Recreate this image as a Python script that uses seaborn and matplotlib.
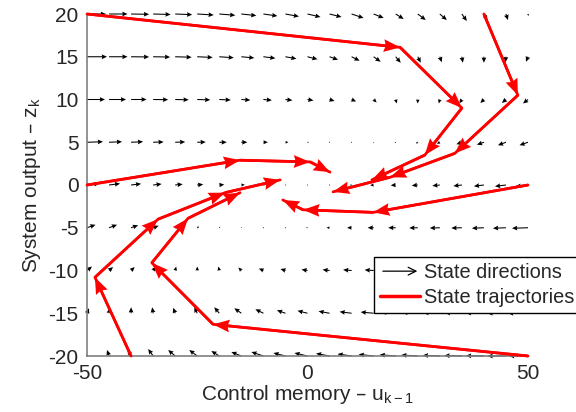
import numpy as np
import pandas as pd
import matplotlib
matplotlib.use("Agg")
import matplotlib.pyplot as plt
import seaborn as sns
from matplotlib.lines import Line2D
from matplotlib.patches import FancyArrowPatch
from matplotlib.legend_handler import HandlerBase

# grid of states
u_levels = [-50, -45, -40, -35, -30, -25, -20, -15, -10, -5, 0,
            5, 10, 15, 20, 25, 30, 35, 40, 45, 50]
z_levels = [20, 15, 10, 5, 0, -5, -10, -15, -20]

# state directions (arrow components, one row per z level, u from -50 to 50)
du_20 = [19, 18.5, 18, 17.5, 17, 16.5, 16, 15, 14, 13.5, 13, 12, 12, 10, 8, 8, 7, 5, 3.5, 2, 0.5]
dz_20 = [0, 0, -0.3, -0.5, -0.7, -1, -1.3, -1.6, -2, -2.5, -3, -3, -4, -4, -5, -6, -6, -7, -6.5, -6, -2]
du_15 = [20, 18.5, 18, 17, 16.5, 15.5, 14.5, 13, 12, 11, 10, 8.5, 8, 7, 5, 3, 2, 1, 0, -0.5, -2]
dz_15 = [0, 0, -0.2, -0.3, -0.5, -0.7, -1, -1.2, -1.5, -2, -2.5, -3, -4, -5, -6, -6, -5.5, -6, -6, -5.5, -5]
du_10 = [18, 17, 15.5, 15, 13.5, 13, 11.5, 9, 8.5, 7, 6, 5, 4.5, 3, 1, 0, -1, -2.5, -3.5, -4, -5]
dz_10 = [0, 0, 0, -0.2, -0.3, -0.4, -0.5, -0.6, -0.7, -0.8, -1, -1.5, -2, -3, -4, -4, -4, -4, -3.5, -3.5, -4]
du_5 = [16, 13, 12, 10.5, 10, 8.5, 7.5, 6, 4.5, 3, 1.5, 0.5, 0, -0.5, -1, -2, -3, -5.5, -7, -8, -8.5]
dz_5 = [0.5, 0.5, 0.5, 0.3, 0.3, 0.2, 0, 0, 0, 0, -0.3, -0.5, -0.8, -1, -1, -1.2, -1.5, -2, -2.5, -3, -3]
du_0 = [12.5, 11, 10, 8.5, 7.5, 6, 5, 3.5, 2, 1, 0, -1, -2, -3.5, -5, -6, -7.5, -8.5, -10, -11, -12.5]
dz_0 = [1.5, 1.4, 1.2, 1, 0.8, 0.6, 0.4, 0.3, 0.2, 0, 0, 0, -0.2, -0.3, -0.4, -0.6, -0.8, -1, -1.2, -1.4, -1.5]
du_m5 = [8.5, 8, 7, 5.5, 3, 2, 1, 0.5, 0, -0.5, -1.5, -3, -4.5, -6, -7.5, -8.5, -10, -10.5, -12, -13, -16]
dz_m5 = [3, 3, 2.5, 2, 1.5, 1.2, 1, 1, 0.8, 0.5, 0.3, 0, 0, 0, 0, -0.2, -0.3, -0.3, -0.5, -0.5, -0.5]
du_m10 = [5, 4, 3.5, 2.5, 1, 0, -1, -3, -4.5, -5, -6, -7, -8.5, -9, -11.5, -13, -13.5, -15, -15.5, -17, -18]
dz_m10 = [4, 3.5, 3.5, 4, 4, 4, 4, 3, 2, 1.5, 1, 0.8, 0.7, 0.6, 0.5, 0.4, 0.3, 0.2, 0, 0, 0]
du_m15 = [2, 0.5, 0, -1, -2, -3, -5, -7, -8, -8.5, -10, -11, -12, -13, -14.5, -15.5, -16.5, -17, -18, -18.5, -20]
dz_m15 = [5, 5.5, 6, 6, 5.5, 6, 6, 5, 4, 3, 2.5, 2, 1.5, 1.2, 1, 0.7, 0.5, 0.3, 0.2, 0, 0]
du_m20 = [-0.5, -2, -3.5, -5, -7, -8, -8, -10, -12, -12, -13, -13.5, -14, -15, -16, -16.5, -17, -17.5, -18, -18.5, -19]
dz_m20 = [2, 6, 6.5, 7, 6, 6, 5, 4, 4, 3, 3, 2.5, 2, 1.6, 1.3, 1, 0.7, 0.5, 0.3, 0, 0]

# state trajectories (control memory u, system output z)
traj_a_u = [-50, 21, 35, 26.6, 14.6]
traj_a_z = [20, 16.1, 9, 3.5, 0.6]
traj_b_u = [40, 47.7, 33.4, 18.7, 5.8]
traj_b_z = [20, 10.5, 3.7, 0.9, -0.8]
traj_c_u = [-50, -15.3, 0.6, 5.1]
traj_c_z = [0, 2.9, 2.7, 1.5]
traj_d_u = [-40, -48.2, -33.9, -18.7, -6.2]
traj_d_z = [-20, -10.8, -4.0, -0.9, 0.6]
traj_e_u = [50, -21.4, -35.3, -27.1, -15.3]
traj_e_z = [-20, -16.3, -9.1, -3.9, -0.9]
traj_f_u = [50, 14.9, -1.0, -5.6]
traj_f_z = [0, -3.2, -2.9, -1.75]

sns.set_style("white")
plt.rcParams["font.family"] = ["Liberation Sans", "DejaVu Sans"]
plt.rcParams["axes.unicode_minus"] = False
plt.rcParams["mathtext.default"] = "regular"

fig = plt.figure(figsize=(5.76, 4.12), dpi=100)
ax = fig.add_axes([87 / 576, 1 - 356 / 412, 441 / 576, 342 / 412])

# vector field
UU, ZZ = np.meshgrid(u_levels, z_levels)
DU = np.array([du_20, du_15, du_10, du_5, du_0, du_m5, du_m10, du_m15, du_m20])
DZ = np.array([dz_20, dz_15, dz_10, dz_5, dz_0, dz_m5, dz_m10, dz_m15, dz_m20])
ax.quiver(UU, ZZ, DU, DZ, angles="uv", scale_units="dots", scale=1,
          width=0.0024, headwidth=4.5, headlength=5, headaxislength=4.5,
          color="black", zorder=2, clip_on=False)

# trajectories
trajs = {"A": (traj_a_u, traj_a_z), "B": (traj_b_u, traj_b_z),
         "C": (traj_c_u, traj_c_z), "D": (traj_d_u, traj_d_z),
         "E": (traj_e_u, traj_e_z), "F": (traj_f_u, traj_f_z)}
df = pd.concat([pd.DataFrame({"traj": k, "u": v[0], "z": v[1]}) for k, v in trajs.items()])
sns.lineplot(data=df, x="u", y="z", units="traj", estimator=None, sort=False,
             color="red", lw=2.0, ax=ax, zorder=3, clip_on=False)

for k, (tu, tz) in trajs.items():
    tu = np.array(tu)
    tz = np.array(tz)
    ax.quiver(tu[:-1], tz[:-1], np.diff(tu), np.diff(tz), angles="xy",
              scale_units="xy", scale=1, width=0.006, headwidth=4.8,
              headlength=6.2, headaxislength=5.6, color="red", zorder=4,
              clip_on=False)

ax.set_xlim(-50, 50)
ax.set_ylim(-20, 20)
ax.set_xticks([-50, 0, 50])
ax.set_yticks([-20, -15, -10, -5, 0, 5, 10, 15, 20])
ax.tick_params(direction="in", length=4, color="gray", labelsize=15, pad=6)
for s in ["top", "right"]:
    ax.spines[s].set_visible(False)
for s in ["left", "bottom"]:
    ax.spines[s].set_color("gray")
    ax.spines[s].set_linewidth(1.2)
ax.set_xlabel("Control memory – u$_{k-1}$", fontsize=15, labelpad=0)
ax.set_ylabel("System output – z$_k$", fontsize=15, labelpad=4)


class ArrowHandler(HandlerBase):
    def create_artists(self, legend, orig_handle, xdescent, ydescent,
                       width, height, fontsize, trans):
        y = height / 2 - ydescent
        arr = FancyArrowPatch((-xdescent, y), (width - xdescent, y),
                              arrowstyle="->", mutation_scale=14, lw=0.9,
                              color="black", transform=trans)
        return [arr]


arrow_proxy = FancyArrowPatch((0, 0), (1, 0))
line_proxy = Line2D([], [], color="red", lw=2.5)
ax.legend([arrow_proxy, line_proxy], ["State directions", "State trajectories"],
          handler_map={arrow_proxy: ArrowHandler()},
          loc="upper left", bbox_to_anchor=(0.651, 0.289), borderaxespad=0,
          fontsize=14.4, frameon=True, fancybox=False, edgecolor="black",
          framealpha=1, handlelength=2.0, handletextpad=0.2,
          labelspacing=0.3, borderpad=0.3)
ax.get_legend().get_frame().set_linewidth(1.0)

fig.savefig("out.png", dpi=100)
